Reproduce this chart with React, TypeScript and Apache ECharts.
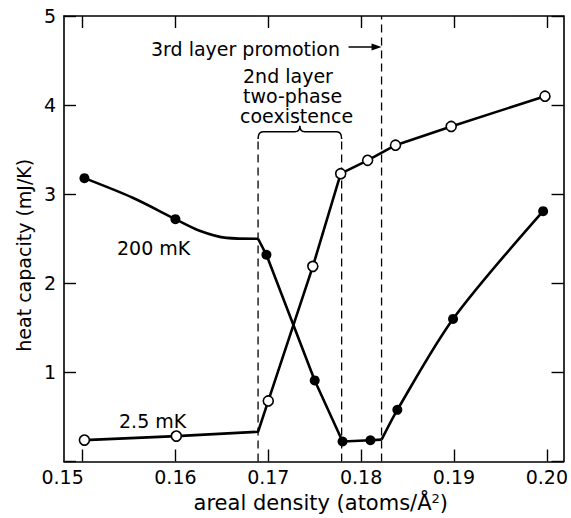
import React, { useEffect, useRef } from "react";
import * as echarts from "echarts";

const FONT = "DejaVu Sans";

// axis ticks
const xTickValues = [0.15, 0.16, 0.17, 0.18, 0.19, 0.2];
const xMin = 0.148;
const xMax = 0.2018;
const yMin = 0;
const yMax = 5;

// 2.5 mK (open circles); mark = 0 -> corner of the line without a symbol
const x25 = [0.1502, 0.1601, 0.1689, 0.17, 0.1748, 0.1778, 0.1807, 0.1837, 0.1897, 0.1998];
const y25 = [0.24, 0.285, 0.334, 0.68, 2.19, 3.23, 3.38, 3.55, 3.76, 4.1];
const mark25 = [1, 1, 0, 1, 1, 1, 1, 1, 1, 1];

// 200 mK (filled circles)
const x200 = [0.1502, 0.1554, 0.16, 0.1626, 0.1655, 0.1689, 0.1698, 0.175, 0.178, 0.181, 0.1822, 0.1839, 0.1899, 0.1996];
const y200 = [3.18, 2.96, 2.72, 2.59, 2.51, 2.5, 2.32, 0.91, 0.224, 0.238, 0.245, 0.58, 1.6, 2.81];
const mark200 = [1, 0, 1, 0, 0, 0, 1, 1, 1, 1, 0, 1, 1, 1];
// segment boundaries (index ranges) of the 200 mK trace
const seg200Start = [0, 5, 10];
const seg200End = [5, 10, 13];

// dashed guide lines
const dashX = [0.1689, 0.1779, 0.1822];
const dashTop = [3.62, 3.62, 5];
const braceY = 3.7;

// labels
const curveLabels = ["200 mK", "2.5 mK"];
const promotionText = "3rd layer promotion";
const coexistenceLines = ["2nd layer", "two-phase", "coexistence"];

const pairs = (xs: number[], ys: number[], from = 0, to = xs.length - 1) => {
  const out: number[][] = [];
  for (let i = from; i <= to; i++) out.push([xs[i], ys[i]]);
  return out;
};
const marked = (xs: number[], ys: number[], m: number[]) =>
  xs.map((x, i) => [x, ys[i]]).filter((_, i) => m[i] === 1);

export default function App() {
  const ref = useRef<HTMLDivElement>(null);
  useEffect(() => {
    const chart = echarts.init(ref.current!, null, { renderer: "svg" });
    const black = "#000";
    const labelFont = { fontSize: 19, fontFamily: FONT, color: black };
    const segSmooth = [0.3, false, 0.3];

    const series: any[] = [];
    seg200Start.forEach((s, k) => {
      series.push({
        type: "line",
        data: pairs(x200, y200, s, seg200End[k]),
        symbol: "none",
        smooth: segSmooth[k],
        lineStyle: { color: black, width: 2.6 },
        silent: true,
        z: 3,
      });
    });
    series.push({
      type: "line",
      data: pairs(x25, y25),
      symbol: "none",
      lineStyle: { color: black, width: 2.6 },
      silent: true,
      z: 3,
    });
    dashX.forEach((x, i) => {
      series.push({
        type: "line",
        data: [
          [x, yMin],
          [x, dashTop[i]],
        ],
        symbol: "none",
        lineStyle: { color: black, width: 1.3, type: [8, 5] },
        silent: true,
        z: 2,
      });
    });
    series.push({
      type: "scatter",
      data: marked(x200, y200, mark200),
      symbol: "circle",
      symbolSize: 10,
      itemStyle: { color: black, opacity: 1 },
      silent: true,
      z: 5,
    });
    series.push({
      type: "scatter",
      data: marked(x25, y25, mark25),
      symbol: "circle",
      symbolSize: 10,
      itemStyle: { color: "#fff", borderColor: black, borderWidth: 1.6, opacity: 1 },
      silent: true,
      z: 5,
    });

    const axisLine = { show: true, onZero: false, lineStyle: { color: black, width: 1.6 } };
    const tick = { show: true, inside: true, length: 12, lineStyle: { color: black, width: 1.4 } };

    chart.setOption({
      animation: false,
      backgroundColor: "#fff",
      grid: { left: 64, right: 5, top: 16, bottom: 51 },
      xAxis: [
        {
          type: "value",
          min: xMin,
          max: xMax,
          position: "bottom",
          axisLine,
          axisTick: { ...tick, customValues: xTickValues },
          splitLine: { show: false },
          axisLabel: {
            ...labelFont,
            margin: 6,
            customValues: xTickValues,
            formatter: (v: number) =>
              Math.abs(v - 0.15) < 1e-9 ? "{s|" + v.toFixed(2) + "}" : v.toFixed(2),
            rich: {
              s: { ...labelFont, padding: [0, 40, 0, 0] },
            },
          },
          name: "areal density (atoms/Å{sup|2})",
          nameLocation: "middle",
          nameGap: 30,
          nameTextStyle: {
            fontSize: 21,
            fontFamily: FONT,
            color: black,
            padding: [0, 0, 0, 14],
            rich: {
              sup: { fontSize: 13, fontFamily: FONT, color: black, verticalAlign: "top", padding: [0, 0, 9, 0] },
            },
          },
        },
        {
          type: "value",
          min: xMin,
          max: xMax,
          position: "top",
          axisLine,
          axisTick: { ...tick, customValues: xTickValues },
          axisLabel: { show: false },
          splitLine: { show: false },
        },
      ],
      yAxis: [
        {
          type: "value",
          min: yMin,
          max: yMax,
          interval: 1,
          position: "left",
          axisLine,
          axisTick: tick,
          splitLine: { show: false },
          axisLabel: {
            ...labelFont,
            margin: 8,
            formatter: (v: number) => (v === 0 ? "" : String(v)),
          },
          name: "heat capacity (mJ/K)",
          nameLocation: "middle",
          nameGap: 31,
          nameTextStyle: {
            fontSize: 19,
            fontFamily: FONT,
            color: black,
            padding: [0, 33, 0, 0],
          },
        },
        {
          type: "value",
          min: yMin,
          max: yMax,
          interval: 1,
          position: "right",
          axisLine,
          axisTick: tick,
          axisLabel: { show: false },
          splitLine: { show: false },
        },
      ],
      series,
    });

    const px = (x: number, y: number) =>
      chart.convertToPixel({ xAxisIndex: 0, yAxisIndex: 0 }, [x, y]) as number[];

    const [L, yb] = px(dashX[0], braceY);
    const [R] = px(dashX[1], braceY);
    const yEnd = px(dashX[0], dashTop[0])[1];
    const M = (L + R) / 2;
    const d =
      `M${L},${yEnd} Q${L},${yb} ${L + 5},${yb} L${M - 5},${yb} ` +
      `Q${M},${yb} ${M},${yb - 6} Q${M},${yb} ${M + 5},${yb} ` +
      `L${R - 5},${yb} Q${R},${yb} ${R},${yEnd}`;
    echarts.graphic.registerShape("brace", echarts.graphic.extendPath(d, {}) as any);

    const [xr] = px(dashX[2], 0);
    const yA = 47;

    const txt = (text: string, x: number, y: number) => ({
      type: "text",
      x,
      y,
      silent: true,
      style: {
        text,
        fontSize: 19,
        fontFamily: FONT,
        fill: black,
        align: "left",
        verticalAlign: "middle",
      },
    });

    chart.setOption({
      graphic: [
        {
          type: "brace",
          x: 0,
          y: 0,
          silent: true,
          style: { stroke: black, fill: "none", lineWidth: 1.5 },
        },
        {
          type: "line",
          silent: true,
          shape: { x1: xr - 33, y1: yA, x2: xr - 4, y2: yA },
          style: { stroke: black, lineWidth: 1.5 },
        },
        {
          type: "polygon",
          silent: true,
          shape: { points: [[xr - 10, yA - 3.5], [xr, yA], [xr - 10, yA + 3.5]] },
          style: { fill: black },
        },
        txt(promotionText, 151, 49),
        txt(coexistenceLines[0], 243, 76),
        txt(coexistenceLines[1], 243, 96),
        txt(coexistenceLines[2], 240, 116),
        txt(curveLabels[0], 117, 248),
        txt(curveLabels[1], 119, 421),
      ],
    });

    return () => chart.dispose();
  }, []);
  return <div ref={ref} style={{ position: "absolute", left: 0, top: 0, width: 571, height: 518 }} />;
}
